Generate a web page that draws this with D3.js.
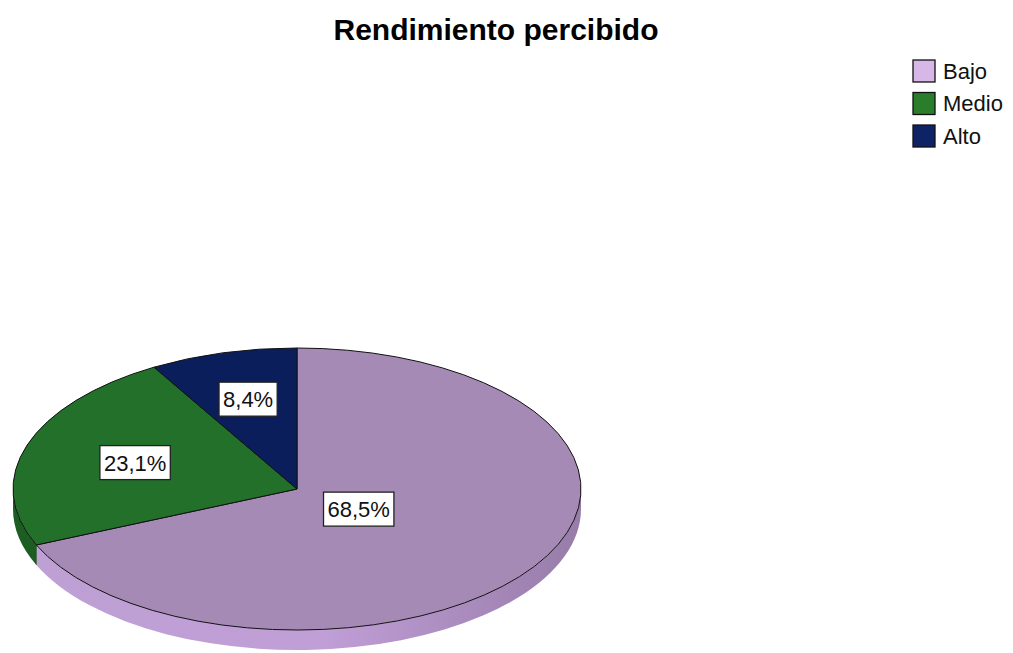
<!DOCTYPE html>
<html>
<head>
<meta charset="utf-8">
<script src="https://cdn.jsdelivr.net/npm/d3@7"></script>
<style>
  body { margin: 0; background: #fff; }
  text { font-family: "Liberation Sans", Arial, sans-serif; }
</style>
</head>
<body>
<div id="wrapper"></div>
<script>
// 1. Data

const categories = ["Bajo", "Medio", "Alto"]
const percents = [68.5, 23.1, 8.4]
const labels = ["68,5%", "23,1%", "8,4%"]

const topColors = ["#a68ab6", "#22702a", "#0b1e5c"]
const legendColors = ["#d7b6e8", "#2a7d2a", "#0e2266"]
const sideColors = ["#b89bcb", "#1c5e22", "#091850"]
// label distance from centre, as a share of the radius (SPSS places them unevenly)
const labelRadius = [0.26, 0.6, 0.66]

// 2. Dimensions

const dimensions = {
  width: 1013,
  height: 653,
  cx: 297,
  cy: 489,
  rx: 284,
  ry: 141,
  depth: 20,
}

// 3. Canvas

const svg = d3.select("#wrapper")
  .append("svg")
    .attr("width", dimensions.width)
    .attr("height", dimensions.height)

const defs = svg.append("defs")

const grad = defs.append("linearGradient")
    .attr("id", "side-bajo")
    .attr("gradientUnits", "userSpaceOnUse")
    .attr("x1", dimensions.cx - dimensions.rx).attr("y1", 0)
    .attr("x2", dimensions.cx + dimensions.rx).attr("y2", 0)
grad.append("stop").attr("offset", "0%").attr("stop-color", "#bea0d4")
grad.append("stop").attr("offset", "55%").attr("stop-color", "#c09ed6")
grad.append("stop").attr("offset", "100%").attr("stop-color", "#977ca9")

// 4. Pie layout

const data = categories.map((c, i) => ({ category: c, value: percents[i], label: labels[i], i }))

const pie = d3.pie()
    .value(d => d.value)
    .sort(null)
    .startAngle(0)
    .endAngle(2 * Math.PI)

const arcs = pie(data)

// angle measured clockwise from 12 o'clock
const px = a => dimensions.cx + dimensions.rx * Math.sin(a)
const py = a => dimensions.cy - dimensions.ry * Math.cos(a)

// 5. Side walls (front half only: angles between pi/2 and 3pi/2)

const sides = svg.append("g")

arcs.forEach(a => {
  const a0 = Math.max(a.startAngle, Math.PI / 2)
  const a1 = Math.min(a.endAngle, 3 * Math.PI / 2)
  if (a1 <= a0) return
  const large = (a1 - a0) > Math.PI ? 1 : 0
  const { rx, ry, depth } = dimensions
  const p = `M${px(a0)},${py(a0)}`
    + `A${rx},${ry} 0 ${large} 1 ${px(a1)},${py(a1)}`
    + `L${px(a1)},${py(a1) + depth}`
    + `A${rx},${ry} 0 ${large} 0 ${px(a0)},${py(a0) + depth}Z`
  sides.append("path")
      .attr("d", p)
      .attr("fill", a.data.i === 0 ? "url(#side-bajo)" : sideColors[a.data.i])
      .attr("stroke", "none")
})

// vertical cut at the Medio/Bajo border
const cut = arcs[0].endAngle
sides.append("path")
    .attr("d", `M${px(cut)},${py(cut)}L${px(cut)},${py(cut) + dimensions.depth}`)
    .attr("stroke", "#1a3d1a")
    .attr("stroke-width", 0.6)

// 6. Top faces

const arcGen = d3.arc()
    .innerRadius(0)
    .outerRadius(dimensions.rx)

const faces = svg.append("g")
    .attr("transform", `translate(${dimensions.cx},${dimensions.cy}) scale(1,${dimensions.ry / dimensions.rx})`)

faces.selectAll("path")
  .data(arcs)
  .join("path")
    .attr("d", arcGen)
    .attr("fill", d => topColors[d.data.i])
    .attr("stroke", "#111")
    .attr("stroke-width", 1)
    .attr("stroke-linejoin", "round")
    .attr("vector-effect", "non-scaling-stroke")

// 7. Value labels

const labelG = svg.append("g")

arcs.forEach(a => {
  const mid = (a.startAngle + a.endAngle) / 2
  const f = labelRadius[a.data.i]
  const x = dimensions.cx + dimensions.rx * f * Math.sin(mid)
  const y = dimensions.cy - dimensions.ry * f * Math.cos(mid)
  const g = labelG.append("g").attr("transform", `translate(${x},${y})`)
  const t = g.append("text")
      .attr("text-anchor", "middle")
      .attr("dy", "0.36em")
      .attr("font-size", 22)
      .attr("fill", "#111")
      .text(a.data.label)
  const bb = t.node().getBBox()
  g.insert("rect", "text")
      .attr("x", bb.x - 4)
      .attr("y", -17)
      .attr("width", bb.width + 8)
      .attr("height", 34)
      .attr("fill", "#fff")
      .attr("stroke", "#222")
      .attr("stroke-width", 1.3)
})

// 8. Title and legend

svg.append("text")
    .attr("x", 496)
    .attr("y", 40)
    .attr("text-anchor", "middle")
    .attr("font-size", 30)
    .attr("font-weight", "bold")
    .attr("fill", "#000")
    .text("Rendimiento percibido")

const legend = svg.append("g")
    .attr("transform", "translate(913,60)")

const rows = legend.selectAll("g")
  .data(categories)
  .join("g")
    .attr("transform", (d, i) => `translate(0,${i * 32.5})`)

rows.append("rect")
    .attr("width", 22)
    .attr("height", 22)
    .attr("fill", (d, i) => legendColors[i])
    .attr("stroke", "#111")
    .attr("stroke-width", 1.3)

rows.append("text")
    .attr("x", 30)
    .attr("y", 11)
    .attr("dy", "0.36em")
    .attr("font-size", 22)
    .attr("fill", "#111")
    .text(d => d)
</script>
</body>
</html>
